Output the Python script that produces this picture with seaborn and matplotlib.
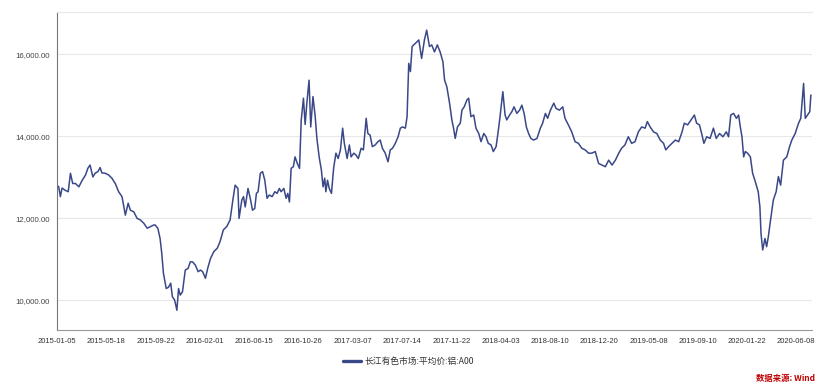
#!/usr/bin/env python3

import matplotlib

matplotlib.use("Agg")
import matplotlib.pyplot as plt
import pandas as pd
import seaborn as sns
from matplotlib.ticker import FuncFormatter

OUTPUT = "out.png"

SERIES_NAME = "长江有色市场:平均价:铝:A00"
SOURCE = "数据来源: Wind"

# trading-day index (0 = 2015-01-05) and price
trade_day = [
    0, 3, 6, 9, 14, 20, 24, 28, 33, 39, 45, 51, 55, 59, 64, 68, 73, 77, 80, 86,
    92, 98, 104, 110, 116, 122, 127, 131, 137, 143, 149, 155, 161, 167, 173,
    175, 180, 184, 187, 190, 195, 199, 203, 206, 210, 214, 217, 220, 224, 229,
    234, 238, 242, 247, 252, 256, 260, 265, 269, 274, 280, 286, 291, 297, 303,
    309, 314,
    318, 323, 325, 330, 333, 336, 341, 345, 349, 353, 356, 359, 363, 367, 371,
    375, 379, 384, 389, 393, 397, 400, 405, 409, 412, 415, 418, 422, 425, 429,
    433, 436, 440, 443, 446, 450, 453, 457, 461, 464, 468, 472, 475, 478, 480,
    483, 486, 490,
    494, 498, 502, 506, 510, 513, 518, 522, 525, 530, 534, 538, 543, 547, 552,
    555, 559, 563, 568, 573, 577, 581, 586, 591, 595, 599, 604, 609, 613, 617,
    622, 625, 628, 631,
    634, 640, 646, 651, 656, 660, 665, 669, 674, 679, 684, 689, 692, 696, 701,
    705, 708, 711, 715, 720, 723, 727, 732, 735, 739, 744, 748, 753, 757, 762,
    766, 770, 775, 779, 784, 788, 791, 796, 800, 803, 808, 812, 816, 821, 826,
    830, 834, 838, 842, 846, 851, 857, 863, 867, 872, 876, 881, 887, 891, 897,
    903, 907, 913, 919, 925, 931, 937, 943, 949, 955, 961, 967, 973, 979, 985,
    991, 997, 1003, 1008, 1014, 1020, 1026, 1032, 1038, 1044, 1050, 1054, 1059,
    1065, 1071, 1077, 1083, 1087, 1092, 1098, 1104, 1110, 1116, 1120, 1126,
    1132, 1138, 1142, 1147, 1151, 1155, 1160, 1166, 1172, 1177, 1183, 1189,
    1195, 1199, 1203, 1208, 1213, 1217, 1220, 1223, 1226, 1229, 1233, 1238,
    1242, 1246, 1252, 1255, 1257, 1260, 1264, 1267, 1270, 1274, 1279, 1284,
    1288, 1292, 1297, 1303, 1308, 1312, 1318, 1324, 1328, 1333, 1336, 1340,
    1344, 1346,
]

price = [
    12810, 12770, 12530, 12740, 12690, 12650, 13100, 12850, 12850, 12770,
    12930, 13060, 13220, 13300, 13010, 13100, 13140, 13240, 13110, 13100,
    13060, 12980, 12850, 12650, 12530, 12080, 12370, 12200, 12160, 12000,
    11960, 11880, 11760, 11800, 11840,
    11840, 11760, 11510, 11150, 10660, 10290, 10320, 10420, 10090, 10010,
    9760, 10290, 10130, 10210, 10740, 10780, 10940, 10940, 10860, 10700,
    10740, 10700, 10540, 10780, 11020, 11190, 11270, 11430, 11720, 11800,
    11960, 12450,
    12810, 12730, 12000, 12450, 12530, 12280, 12730, 12490, 12200, 12240,
    12610, 12650, 13100, 13140, 12930, 12490, 12570, 12530, 12650, 12610,
    12730, 12650, 12730, 12490, 12610, 12400, 13220, 13260, 13500, 13340,
    13220, 14390, 14930, 14290, 14800, 15370, 14230, 14970, 14480, 13950,
    13500, 13180, 12770, 12980, 12650, 12930, 12730, 12610,
    13240, 13590, 13460, 13670, 14200, 13830, 13460, 13790, 13500, 13590,
    13540, 13460, 13710, 13670, 14440, 14070, 14030, 13750, 13790, 13870,
    13910, 13710, 13590, 13380, 13670, 13710, 13830, 13990, 14200, 14230,
    14200, 14480, 15780, 15580,
    16190, 16270, 16350, 15900, 16350, 16590, 16190, 16230, 16060, 16230,
    16060, 15820, 15370, 15210, 14800, 14400, 14200, 13950, 14230, 14320,
    14640, 14720, 14890, 14930, 14480, 14520, 14200, 14070, 13870, 14070,
    13990, 13830, 13790, 13630, 13750, 14150, 14480, 15090, 14520, 14400,
    14520, 14600, 14720, 14560, 14640, 14760, 14560, 14230, 14070, 13950,
    13910, 13950, 14200, 14320, 14560, 14440, 14640, 14810, 14680, 14640,
    14720, 14440, 14280, 14110, 13870, 13830, 13710, 13670, 13590, 13590,
    13630, 13340, 13300, 13260, 13420, 13300, 13420, 13590, 13710, 13790,
    13990, 13830, 13870, 14110, 14230, 14200, 14360, 14230, 14110, 14070,
    13910, 13830, 13670, 13750, 13830, 13910, 13870, 14110, 14320, 14280,
    14400, 14520, 14320, 14280, 14070, 13830, 13990, 13950, 14200, 13950,
    14070, 13990, 14110, 13990, 14520, 14560, 14440, 14520, 14230, 13990,
    13500, 13630, 13590, 13500, 13100, 12930, 12650, 12280, 11630, 11230,
    11510, 11310, 11550, 11960, 12450, 12650, 13020, 12810, 13420, 13500,
    13750, 13910, 14070, 14320, 14440, 15290, 14440, 14520, 14600, 15010,
]

tick_days = [0, 88, 176, 264, 352, 440, 528, 616, 704, 792, 880, 968, 1056,
             1144, 1232, 1320]
tick_labels = [
    "2015-01-05", "2015-05-18", "2015-09-22", "2016-02-01", "2016-06-15",
    "2016-10-26", "2017-03-07", "2017-07-14", "2017-11-22", "2018-04-03",
    "2018-08-10", "2018-12-20", "2019-05-08", "2019-09-10", "2020-01-22",
    "2020-06-08",
]
y_ticks = [10000, 12000, 14000, 16000]

LINE_COLOR = "#3a4888"


def main():
    df = pd.DataFrame({"day": trade_day, "price": price, "series": SERIES_NAME})

    sns.set_style("white")
    plt.rcParams["font.family"] = ["Liberation Sans", "Noto Sans CJK SC", "DejaVu Sans"]

    fig = plt.figure(figsize=(8.3, 3.9), dpi=100)
    ax = fig.add_axes([0.0687, 0.154, 0.9096, 0.815])

    sns.lineplot(
        data=df,
        x="day",
        y="price",
        hue="series",
        palette=[LINE_COLOR],
        linewidth=1.1,
        ax=ax,
    )

    ax.set_xlim(0, 1348)
    ax.set_ylim(9280, 17030)
    ax.set_xticks(tick_days)
    ax.set_xticklabels(tick_labels)
    ax.set_yticks(y_ticks)
    ax.yaxis.set_major_formatter(FuncFormatter(lambda v, _: f"{v:,.2f}"))
    ax.set_xlabel("")
    ax.set_ylabel("")

    ax.grid(axis="y", color="#e8e8e8", linewidth=0.8)
    ax.set_axisbelow(True)
    ax.tick_params(axis="x", length=3, width=0.6, color="#888888",
                   labelsize=5.5, labelcolor="#333333", pad=3)
    ax.tick_params(axis="y", length=0, labelsize=5.7, labelcolor="#444444", pad=5)

    ax.spines["right"].set_visible(False)
    ax.spines["top"].set_color("#e8e8e8")
    ax.spines["top"].set_linewidth(0.8)
    ax.spines["left"].set_color("#777777")
    ax.spines["left"].set_linewidth(0.8)
    ax.spines["bottom"].set_color("#999999")
    ax.spines["bottom"].set_linewidth(0.8)

    leg = ax.legend(
        loc="center",
        bbox_to_anchor=(0.492, 0.072),
        bbox_transform=fig.transFigure,
        frameon=False,
        fontsize=6.3,
        handlelength=2.0,
        handletextpad=0.4,
    )
    for h in leg.get_lines():
        h.set_linewidth(2.4)
    for t in leg.get_texts():
        t.set_color("#333333")
        t.set_family(["Noto Sans CJK SC", "DejaVu Sans"])

    fig.text(
        0.982, 0.018, SOURCE,
        ha="right", va="bottom",
        fontsize=6, color="#c00000", fontweight="bold", style="italic",
        family=["Noto Sans CJK SC", "DejaVu Sans"],
    )

    fig.savefig(OUTPUT, dpi=100)


if __name__ == "__main__":
    main()
